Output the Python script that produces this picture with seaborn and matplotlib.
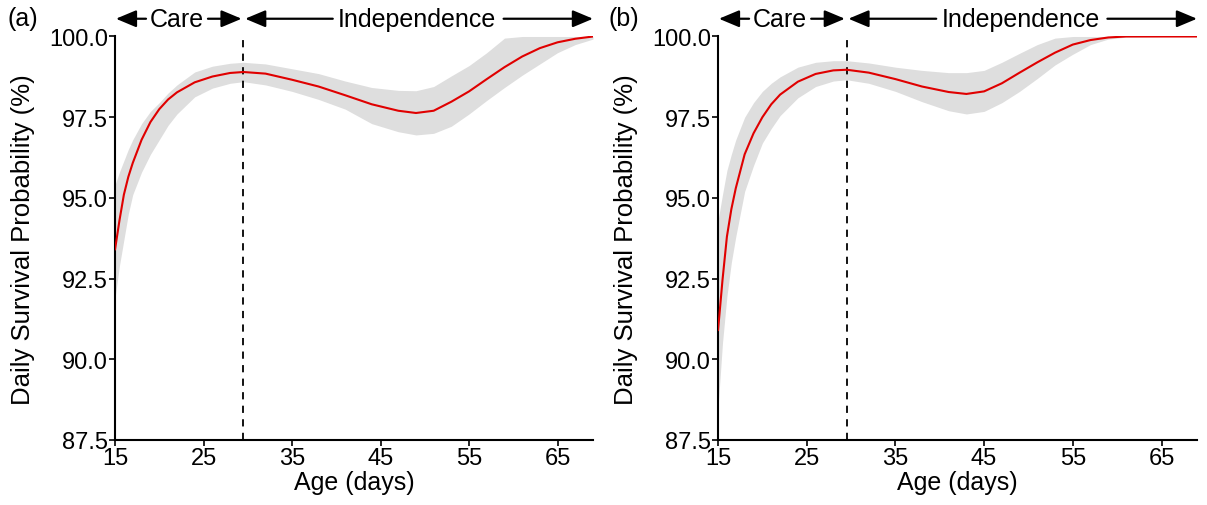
import numpy as np
import pandas as pd
import seaborn as sns
import matplotlib
matplotlib.use("Agg")
import matplotlib.pyplot as plt

# ---------------- data ----------------
age_a = [15, 15.5, 16, 16.5, 17, 18, 19, 20, 21, 22, 24, 26, 28, 29.5, 32, 35, 38, 41, 44,
         47, 49, 51, 53, 55, 57, 59, 61, 63, 65, 67, 69]
surv_a = [93.4, 94.3, 95.1, 95.65, 96.08, 96.8, 97.35, 97.75, 98.05, 98.27, 98.58, 98.76,
          98.87, 98.9, 98.85, 98.66, 98.45, 98.18, 97.9, 97.7, 97.63, 97.7, 97.98, 98.3,
          98.68, 99.05, 99.38, 99.64, 99.82, 99.93, 100.0]
upper_a = [95.4, 95.8, 96.15, 96.5, 96.8, 97.3, 97.68, 97.95, 98.25, 98.5, 98.9, 99.08,
           99.17, 99.2, 99.15, 99.0, 98.85, 98.62, 98.42, 98.33, 98.32, 98.45, 98.78, 99.1,
           99.5, 99.95, 100.0, 100.0, 100.0, 100.0, 100.0]
lower_a = [91.9, 92.9, 93.7, 94.5, 95.1, 95.8, 96.35, 96.8, 97.25, 97.6, 98.13, 98.4, 98.55,
           98.6, 98.5, 98.3, 98.05, 97.75, 97.3, 97.05, 96.95, 97.0, 97.22, 97.6, 98.02,
           98.42, 98.8, 99.15, 99.5, 99.75, 99.92]

age_b = [15, 15.5, 16, 16.5, 17, 18, 19, 20, 21, 22, 24, 26, 28, 29.5, 32, 35, 38, 41, 43,
         45, 47, 49, 51, 53, 55, 57, 59, 61, 65, 69]
surv_b = [90.9, 92.45, 93.8, 94.65, 95.3, 96.35, 97.0, 97.5, 97.9, 98.2, 98.6, 98.84, 98.95,
          98.97, 98.88, 98.68, 98.45, 98.28, 98.22, 98.3, 98.55, 98.88, 99.2, 99.5, 99.75,
          99.89, 99.97, 100.0, 100.0, 100.0]
upper_b = [94.3, 95.1, 95.85, 96.35, 96.8, 97.5, 97.95, 98.3, 98.55, 98.75, 99.05, 99.2,
           99.25, 99.25, 99.18, 99.05, 98.95, 98.88, 98.88, 98.95, 99.2, 99.48, 99.75, 99.95,
           100.0, 100.0, 100.0, 100.0, 100.0, 100.0]
lower_b = [88.5, 90.5, 91.95, 93.0, 93.8, 95.2, 96.0, 96.7, 97.15, 97.55, 98.1, 98.45, 98.62,
           98.66, 98.55, 98.3, 97.98, 97.7, 97.6, 97.68, 97.95, 98.3, 98.7, 99.12, 99.45,
           99.75, 99.92, 99.98, 100.0, 100.0]

panel_labels = ["(a)", "(b)"]
x_ticks = [15, 25, 35, 45, 55, 65]
y_ticks = [87.5, 90.0, 92.5, 95.0, 97.5, 100.0]
phase_labels = ["Care", "Independence"]
care_end = 29.5

# ---------------- style ----------------
sns.set_theme(style="ticks")
plt.rcParams["font.family"] = ["Liberation Sans", "DejaVu Sans"]
plt.rcParams["text.color"] = "black"
plt.rcParams["axes.labelcolor"] = "black"
plt.rcParams["xtick.color"] = "black"
plt.rcParams["ytick.color"] = "black"

fig = plt.figure(figsize=(12.07, 5.06), dpi=100)
ax_a = fig.add_axes([0.0953, 0.1285, 0.3960, 0.7974])
ax_b = fig.add_axes([0.5949, 0.1285, 0.3968, 0.7974])

panels = [
    (ax_a, age_a, surv_a, upper_a, lower_a),
    (ax_b, age_b, surv_b, upper_b, lower_b),
]

for i, (ax, age, surv, up, lo) in enumerate(panels):
    df = pd.DataFrame({"age": age, "surv": surv, "up": up, "lo": lo})
    ax.fill_between(df["age"], df["lo"], df["up"], color="#DEDEDE", linewidth=0, zorder=1)
    sns.lineplot(data=df, x="age", y="surv", ax=ax, color="#E00000", linewidth=1.5,
                 zorder=3, legend=False)
    ax.axvline(care_end, color="black", linestyle=(0, (4, 3.5)), linewidth=1.3, zorder=2)

    ax.set_xlim(15, 69)
    ax.set_ylim(87.5, 100.0)
    ax.set_xticks(x_ticks)
    ax.set_yticks(y_ticks)
    ax.set_yticklabels([f"{v:.1f}" for v in y_ticks])
    ax.tick_params(axis="both", labelsize=17, length=4, width=1.2, color="black",
                   labelcolor="black", pad=1)
    for s in ["left", "bottom"]:
        ax.spines[s].set_linewidth(1.5)
        ax.spines[s].set_color("black")
    sns.despine(ax=ax)
    ax.set_xlabel("Age (days)", fontsize=18, labelpad=1, color="black")
    ax.set_ylabel("Daily Survival Probability (%)", fontsize=18.5, color="black")

    # phase arrows above the axes
    yarr = 100.55
    arrow_kw = dict(arrowstyle="-|>,head_length=0.62,head_width=0.26", lw=1.6,
                    color="black", mutation_scale=20, shrinkA=0, shrinkB=0)
    # Care
    ax.annotate("", xy=(15.1, yarr), xytext=(18.5, yarr), arrowprops=arrow_kw,
                annotation_clip=False)
    ax.annotate("", xy=(29.3, yarr), xytext=(25.5, yarr), arrowprops=arrow_kw,
                annotation_clip=False)
    ax.text(21.95, yarr, phase_labels[0], ha="center", va="center", fontsize=18,
            color="black", clip_on=False)
    # Independence
    ax.annotate("", xy=(29.7, yarr), xytext=(39.6, yarr), arrowprops=arrow_kw,
                annotation_clip=False)
    ax.annotate("", xy=(69.0, yarr), xytext=(58.9, yarr), arrowprops=arrow_kw,
                annotation_clip=False)
    ax.text(49.1, yarr, phase_labels[1], ha="center", va="center", fontsize=18,
            color="black", clip_on=False)

ax_a.yaxis.set_label_coords(-0.167, 0.5)
ax_b.yaxis.set_label_coords(-0.167, 0.5)

fig.text(0.0066, 0.963, panel_labels[0], fontsize=18, ha="left", va="center")
fig.text(0.5045, 0.963, panel_labels[1], fontsize=18, ha="left", va="center")

fig.savefig("out.png", dpi=100)
